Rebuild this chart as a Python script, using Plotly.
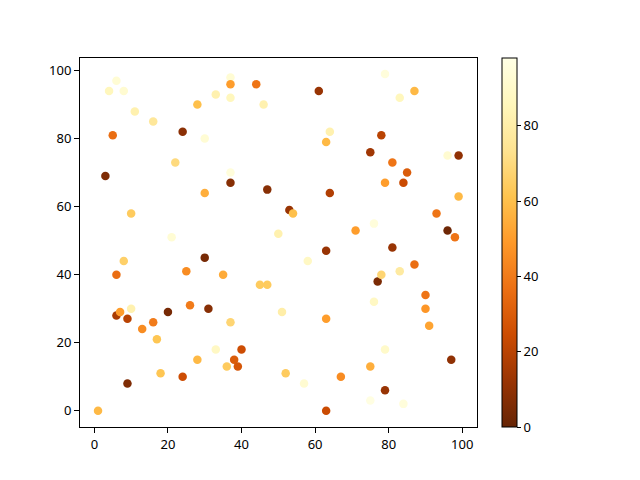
import plotly.graph_objects as go

# scatter points: x, y and colour value
x = [1, 3, 4, 5, 6, 6, 6, 7, 8, 8, 9, 9, 10, 10, 11, 13, 16, 16, 17, 18,
     20, 21, 22, 24, 24, 25, 26, 28, 28, 30, 30, 30, 31, 33, 33, 35, 36, 37, 37, 37,
     37, 37, 37, 38, 39, 40, 44, 45, 46, 47, 47, 50, 51, 52, 53, 54, 57, 58, 61, 63,
     63, 63, 63, 64, 64, 67, 71, 75, 75, 75, 76, 76, 77, 78, 78, 79, 79, 79, 79, 81,
     81, 83, 83, 84, 84, 85, 87, 87, 90, 90, 91, 93, 96, 96, 97, 98, 99, 99]
y = [0, 69, 94, 81, 97, 40, 28, 29, 94, 44, 27, 8, 58, 30, 88, 24, 85, 26, 21, 11,
     29, 51, 73, 82, 10, 41, 31, 90, 15, 80, 64, 45, 30, 93, 18, 40, 13, 98, 96, 92,
     70, 67, 26, 15, 13, 18, 96, 37, 90, 65, 37, 52, 29, 11, 59, 58, 8, 44, 94, 79,
     47, 27, 0, 82, 64, 10, 53, 76, 13, 3, 55, 32, 38, 81, 40, 99, 67, 18, 6, 73,
     48, 92, 41, 67, 2, 70, 94, 43, 34, 30, 25, 58, 75, 53, 15, 51, 75, 63]
c = [58, 6, 86, 36, 93, 36, 16, 50, 92, 66, 20, 6, 64, 82, 82, 45, 76, 40, 62, 62,
     4, 93, 70, 9, 25, 45, 40, 60, 58, 93, 55, 4, 8, 82, 88, 54, 64, 93, 50, 86,
     95, 8, 68, 30, 28, 25, 38, 64, 82, 8, 64, 82, 80, 64, 12, 60, 92, 88, 12, 58,
     12, 50, 24, 82, 18, 45, 50, 14, 55, 97, 95, 88, 5, 20, 68, 95, 50, 90, 12, 38,
     12, 86, 78, 24, 95, 30, 58, 36, 38, 48, 52, 38, 92, 2, 10, 38, 10, 58]

fig = go.Figure(go.Scatter(
    x=x, y=y, mode="markers",
    marker=dict(size=8.5, color=c, colorscale="YlOrBr_r", cmin=0, cmax=98,
                line=dict(width=0),
                colorbar=dict(x=1.063, xanchor="left", y=0, yanchor="bottom",
                              len=1, lenmode="fraction", thickness=15,
                              outlinecolor="black", outlinewidth=1,
                              ticks="outside", ticklen=4, tickcolor="black",
                              tickvals=[0, 20, 40, 60, 80], xpad=0, ypad=0)),
))

axis = dict(showline=True, mirror=True, linecolor="black", linewidth=1,
            ticks="outside", ticklen=5, tickcolor="black", showgrid=False,
            zeroline=False, tickvals=[0, 20, 40, 60, 80, 100])
fig.update_xaxes(axis, range=[-3.9, 104])
fig.update_yaxes(axis, range=[-4.8, 103.7])
# page body adds an 8px offset, so margins are shifted to compensate
fig.update_layout(width=640, height=480, plot_bgcolor="white", paper_bgcolor="white",
                  margin=dict(l=72, r=171, t=50, b=61, autoexpand=False),
                  showlegend=False,
                  font=dict(family="Noto Sans", size=13, color="black"))

fig.write_html("out.html")
